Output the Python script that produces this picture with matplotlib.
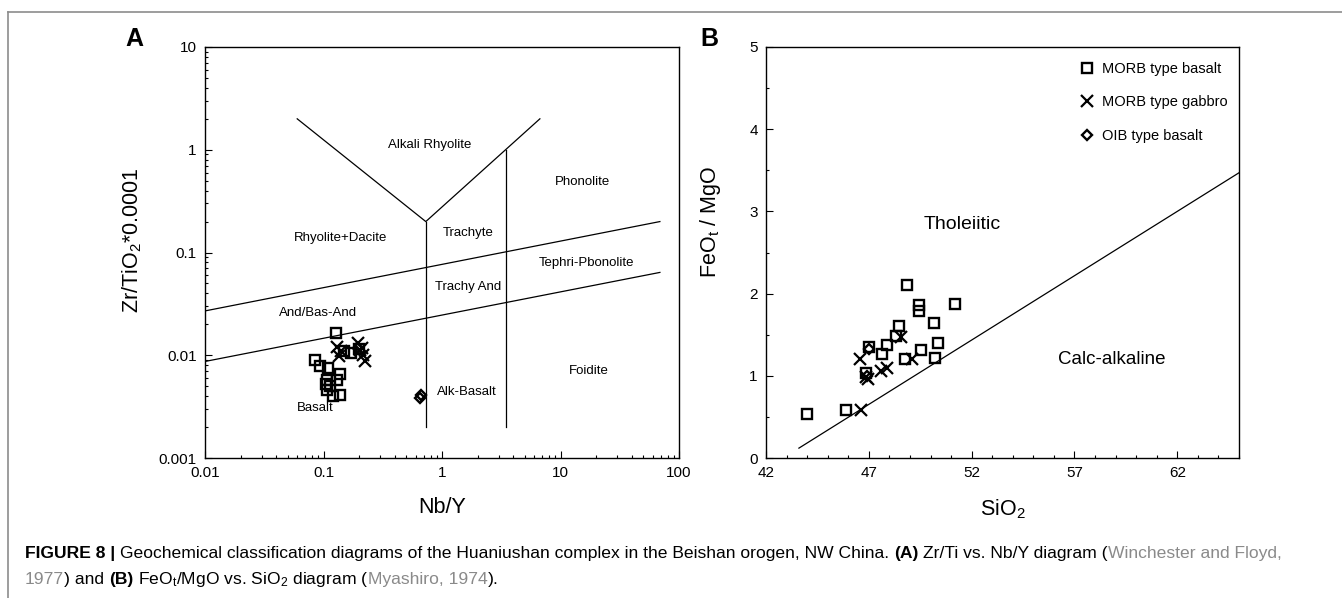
import numpy as np
import matplotlib.pyplot as plt
from matplotlib.lines import Line2D
from matplotlib.ticker import MultipleLocator, LogLocator, NullFormatter

plt.rcParams['font.family'] = ['Liberation Sans', 'DejaVu Sans']
plt.rcParams['mathtext.fontset'] = 'custom'
plt.rcParams['mathtext.rm'] = 'Liberation Sans'
plt.rcParams['mathtext.it'] = 'Liberation Sans:italic'
plt.rcParams['mathtext.bf'] = 'Liberation Sans:bold'

W, H = 1342, 598

# --- panel A : Zr/Ti vs Nb/Y (Winchester & Floyd 1977) ---
a_basalt_nby = [0.128, 0.149, 0.172, 0.200, 0.084, 0.094, 0.110, 0.139,
                0.130, 0.107, 0.113, 0.105, 0.108, 0.120, 0.137]
a_basalt_zrti = [0.0166, 0.0110, 0.0105, 0.0115, 0.0089, 0.0079, 0.0075, 0.0066,
                 0.0058, 0.0058, 0.0050, 0.0053, 0.0046, 0.0040, 0.0041]
a_gabbro_nby = [0.130, 0.135, 0.196, 0.202, 0.216, 0.223, 0.210, 0.140]
a_gabbro_zrti = [0.0121, 0.0098, 0.0133, 0.0113, 0.0100, 0.0087, 0.0118, 0.0110]
a_oib_nby = [0.66, 0.65]
a_oib_zrti = [0.0041, 0.0038]

# field boundaries (x list, y list)
a_bounds = [
    ([0.06, 0.73, 6.7], [2.0, 0.2, 2.0]),
    ([0.73, 0.73], [0.2, 0.002]),
    ([3.46, 3.46], [1.0, 0.002]),
    ([0.01, 69], [0.027, 0.2]),
    ([0.01, 69], [0.0087, 0.064]),
]
a_fields = ['Alkali Rhyolite', 'Phonolite', 'Rhyolite+Dacite', 'Trachyte',
            'Tephri-Pbonolite', 'Trachy And', 'And/Bas-And', 'Foidite',
            'Alk-Basalt', 'Basalt']
a_field_x = [0.79, 15.3, 0.138, 1.65, 16.7, 1.65, 0.0897, 17.5, 1.61, 0.085]
a_field_y = [1.11, 0.49, 0.137, 0.154, 0.0785, 0.0458, 0.0256, 0.00708, 0.00436, 0.00305]
a_xticks = [0.01, 0.1, 1, 10, 100]
a_xticklabels = ['0.01', '0.1', '1', '10', '100']
a_yticks = [0.001, 0.01, 0.1, 1, 10]
a_yticklabels = ['0.001', '0.01', '0.1', '1', '10']

# --- panel B : FeOt/MgO vs SiO2 (Miyashiro 1974) ---
b_basalt_sio2 = [44.0, 45.9, 46.85, 47.0, 47.65, 47.9, 48.3, 48.45, 48.85,
                 48.75, 49.45, 49.45, 49.55, 50.15, 50.2, 50.35, 51.2]
b_basalt_ratio = [0.54, 0.59, 1.03, 1.35, 1.27, 1.38, 1.48, 1.61, 2.10,
                  1.20, 1.86, 1.79, 1.31, 1.64, 1.22, 1.40, 1.87]
b_gabbro_sio2 = [46.55, 46.85, 46.95, 47.6, 47.9, 48.55, 49.1, 46.6]
b_gabbro_ratio = [1.20, 0.98, 0.96, 1.06, 1.10, 1.47, 1.20, 0.58]
b_oib_sio2 = [47.0, 46.9]
b_oib_ratio = [1.33, 1.00]
b_line_sio2 = [43.6, 65]
b_line_ratio = [0.12, 3.47]
b_xticks = [42, 47, 52, 57, 62]
b_yticks = [0, 1, 2, 3, 4, 5]

fig = plt.figure(figsize=(W / 100, H / 100), dpi=100)


def px_axes(l, r, t, b):
    return fig.add_axes([l / W, 1 - b / H, (r - l) / W, (b - t) / H])


ax_a = px_axes(205, 679, 47, 458)
ax_b = px_axes(766, 1239, 47, 458)

sq = dict(ls='none', marker='s', mfc='none', mec='black', mew=1.7, ms=6.8)
cr = dict(ls='none', marker='x', color='black', mew=1.6, ms=9)
di = dict(ls='none', marker='D', mfc='none', mec='black', mew=1.7, ms=5.2)

# panel A
for xs, ys in a_bounds:
    ax_a.plot(xs, ys, color='black', lw=0.9)
ax_a.plot(a_basalt_nby, a_basalt_zrti, **sq)
ax_a.plot(a_gabbro_nby, a_gabbro_zrti, **cr)
ax_a.plot(a_oib_nby, a_oib_zrti, **di)
for s, x, y in zip(a_fields, a_field_x, a_field_y):
    ax_a.text(x, y, s, ha='center', va='center', fontsize=9.5)
ax_a.set_xscale('log')
ax_a.set_yscale('log')
ax_a.set_xlim(0.01, 100)
ax_a.set_ylim(0.001, 10)
ax_a.set_xticks(a_xticks)
ax_a.set_xticklabels(a_xticklabels)
ax_a.set_yticks(a_yticks)
ax_a.set_yticklabels(a_yticklabels)
for axis in (ax_a.xaxis, ax_a.yaxis):
    axis.set_minor_locator(LogLocator(base=10, subs=np.arange(2, 10)))
    axis.set_minor_formatter(NullFormatter())
ax_a.set_xlabel('Nb/Y', fontsize=15.5, labelpad=12)
ax_a.set_ylabel(r'Zr/TiO$_\mathrm{2}$*0.0001', fontsize=15.5)
ax_a.yaxis.set_label_coords(-0.128, 0.53)

# panel B
ax_b.plot(b_line_sio2, b_line_ratio, color='black', lw=0.9)
ax_b.plot(b_basalt_sio2, b_basalt_ratio, label='MORB type basalt', **sq)
ax_b.plot(b_gabbro_sio2, b_gabbro_ratio, label='MORB type gabbro', **cr)
ax_b.plot(b_oib_sio2, b_oib_ratio, label='OIB type basalt', **di)
ax_b.text(51.55, 2.84, 'Tholeiitic', ha='center', va='center', fontsize=14)
ax_b.text(58.8, 1.20, 'Calc-alkaline', ha='center', va='center', fontsize=13.5)
ax_b.set_xlim(42, 65)
ax_b.set_ylim(0, 5)
ax_b.set_xticks(b_xticks)
ax_b.set_yticks(b_yticks)
ax_b.xaxis.set_minor_locator(MultipleLocator(1))
ax_b.yaxis.set_minor_locator(MultipleLocator(0.5))
ax_b.set_xlabel(r'SiO$_\mathrm{2}$', fontsize=15.5, labelpad=12)
ax_b.set_ylabel(r'FeO$_\mathrm{t}$ / MgO', fontsize=15.5)
ax_b.yaxis.set_label_coords(-0.09, 0.575)
ax_b.legend(loc='upper left', bbox_to_anchor=(0.663, 0.963), frameon=False,
            fontsize=10.5, handlelength=1.0, handletextpad=0.55,
            labelspacing=1.32, borderpad=0, borderaxespad=0)

for ax in (ax_a, ax_b):
    ax.tick_params(which='both', direction='in', top=False, right=False,
                   labelsize=11, width=0.8, pad=6)
    ax.tick_params(which='major', length=5)
    ax.tick_params(which='minor', length=2.5)
    for sp in ax.spines.values():
        sp.set_linewidth(1.0)

fig.text(134 / W, 1 - 39 / H, 'A', fontsize=18, fontweight='bold', ha='center', va='center')
fig.text(709 / W, 1 - 39 / H, 'B', fontsize=18, fontweight='bold', ha='center', va='center')

# page frame
frame_col = '#8c8c8c'
fig.add_artist(Line2D([7.5 / W, 1], [1 - 12 / H, 1 - 12 / H], color=frame_col, lw=1.2,
                      transform=fig.transFigure))
fig.add_artist(Line2D([7.5 / W, 7.5 / W], [0, 1 - 12 / H], color=frame_col, lw=1.2,
                      transform=fig.transFigure))

# caption
gray = '#8a8a8a'
cap_size = 12.6
line1 = [('FIGURE 8 |', True, 'black'),
         (' Geochemical classification diagrams of the Huaniushan complex in the Beishan orogen, NW China. ', False, 'black'),
         ('(A)', True, 'black'),
         (' Zr/Ti vs. Nb/Y diagram (', False, 'black'),
         ('Winchester and Floyd,', False, gray)]
line2 = [('1977', False, gray),
         (') and ', False, 'black'),
         ('(B)', True, 'black'),
         (r' FeO$_\mathrm{t}$/MgO vs. SiO$_\mathrm{2}$ diagram (', False, 'black'),
         ('Myashiro, 1974', False, gray),
         (').', False, 'black')]

renderer = fig.canvas.get_renderer()


def text_w(s, bold):
    t = fig.text(0, 0, s, fontsize=cap_size, fontweight='bold' if bold else 'normal')
    w = t.get_window_extent(renderer).width
    t.remove()
    return w


space_w = text_w('a a', False) - text_w('aa', False)


def caption_line(pieces, x0, base):
    x = x0
    for s, bold, col in pieces:
        lead = len(s) - len(s.lstrip(' '))
        trail = len(s) - len(s.rstrip(' '))
        x += lead * space_w
        core = s.strip(' ')
        t = fig.text(x / W, 1 - base / H, core, fontsize=cap_size, color=col,
                     fontweight='bold' if bold else 'normal', ha='left', va='baseline')
        x += t.get_window_extent(renderer).width + trail * space_w


caption_line(line1, 25, 558)
caption_line(line2, 25, 584)

fig.savefig('out.png', dpi=100)
